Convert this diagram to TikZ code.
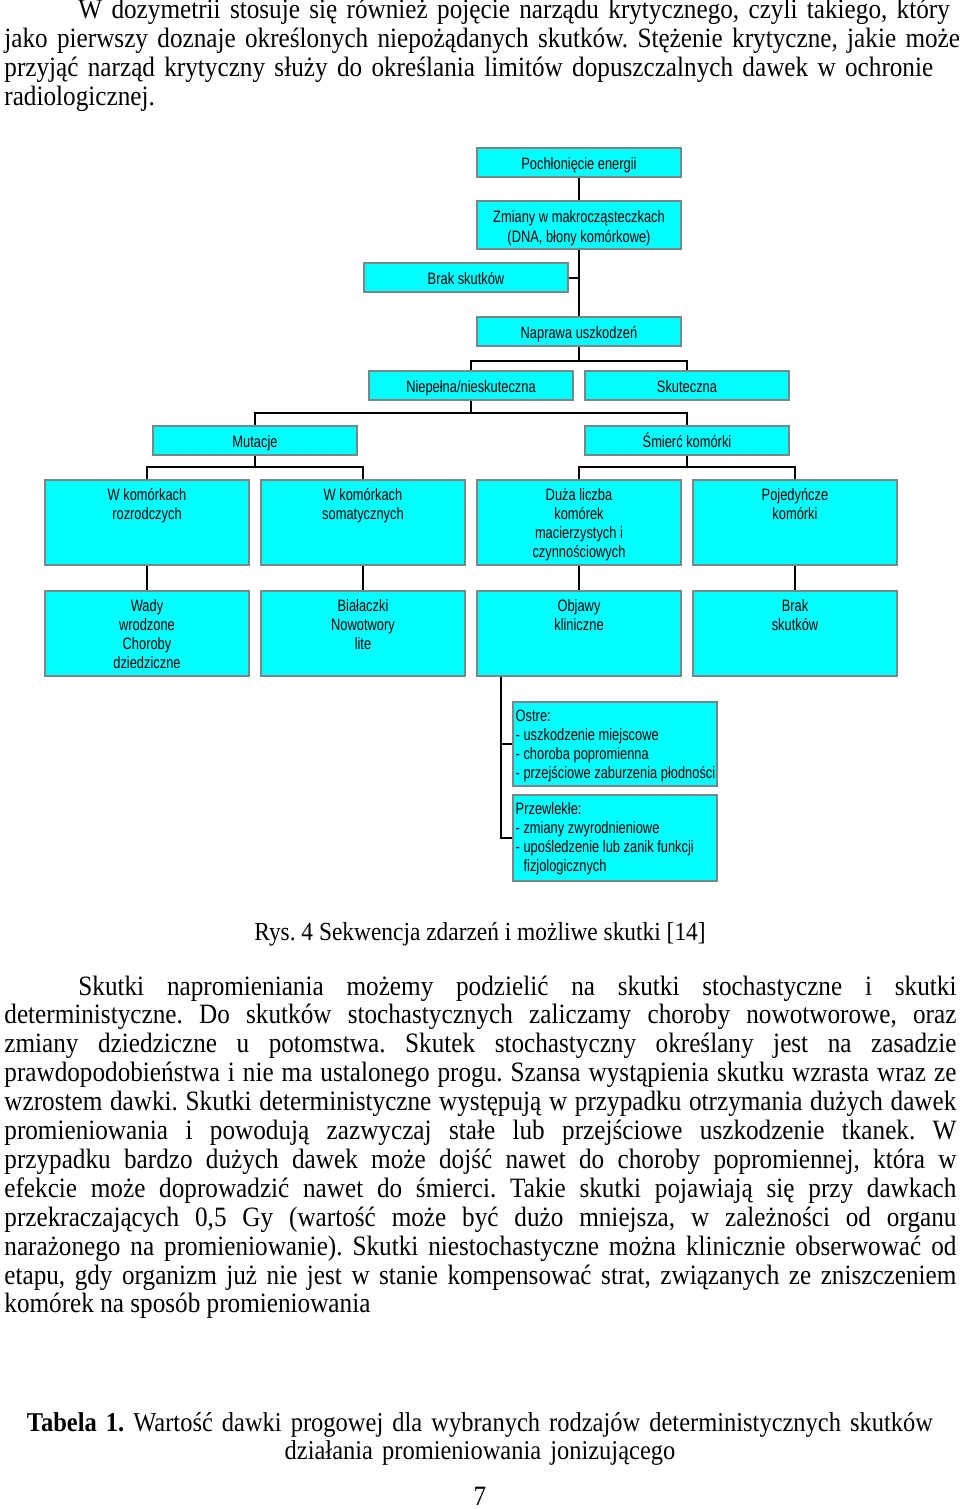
\documentclass[tikz,border=0pt]{standalone}
\usepackage{fontspec}
\usepackage{xcolor,tikz}
\setmainfont{Liberation Serif}
\newfontfamily\pagefont[FakeStretch=0.9]{Liberation Serif}
\newfontfamily\chartfont[FakeStretch=0.78]{Liberation Sans}
\definecolor{boxcyan}{RGB}{0,255,255}
\definecolor{boxedge}{RGB}{120,135,135}
\hyphenpenalty=10000
\tolerance=9999
\frenchspacing

\begin{document}
\begin{tikzpicture}[x=0.5pt,y=-0.5pt,
  every node/.style={inner sep=0pt},
  pagetext/.style={font=\pagefont\fontsize{14pt}{14.45pt}\selectfont},
  para/.style={pagetext, text width=476pt, anchor=base west},
  box/.style={draw=boxedge, fill=boxcyan, line width=0.7pt, minimum width=102pt, minimum height=14.5pt,
    text height=7pt, text depth=0pt, font=\chartfont\fontsize{8.25pt}{9.5pt}\selectfont},
  bigbox/.style={box, minimum height=42.5pt},
  boxtext/.style={font=\chartfont\fontsize{8.25pt}{9.5pt}\selectfont, align=center, anchor=north, inner ysep=4.5pt},
  listtext/.style={boxtext, align=left, anchor=north west, inner xsep=1.5pt, inner ysep=4pt},
  link/.style={line width=1pt}]
\useasboundingbox (0,0) rectangle (960,1509);

\node[para, text width=480pt, align=left] (intro) at (4,19) {\hspace*{37pt}W dozymetrii stosuje się również pojęcie narządu krytycznego, czyli takiego, który\\jako pierwszy doznaje określonych niepożądanych skutków. Stężenie krytyczne, jakie może\\przyjąć narząd krytyczny służy do określania limitów dopuszczalnych dawek w ochronie\\radiologicznej.};

\node[box] (poch) at (579,162.5) {Pochłonięcie energii};
\node[box, minimum height=24pt, align=center, text height=17pt] (zmiany) at (579,225) {Zmiany w makrocząsteczkach\\(DNA, błony komórkowe)};
\node[box] (brak) at (466,277.5) {Brak skutków};
\node[box] (naprawa) at (579,331.5) {Naprawa uszkodzeń};
\node[box] (niepelna) at (471,385.5) {Niepełna/nieskuteczna};
\node[box] (skuteczna) at (687,385.5) {Skuteczna};
\node[box] (mutacje) at (255,440.5) {Mutacje};
\node[box] (smierc) at (687,440.5) {Śmierć komórki};

\node[bigbox] (rozrod) at (147,522.5) {};
\node[boxtext] (rozrodT) at (rozrod.north) {W komórkach\\rozrodczych};
\node[bigbox] (somat) at (363,522.5) {};
\node[boxtext] (somatT) at (somat.north) {W komórkach\\somatycznych};
\node[bigbox] (duza) at (579,522.5) {};
\node[boxtext] (duzaT) at (duza.north) {Duża liczba\\komórek\\macierzystych i\\czynnościowych};
\node[bigbox] (pojed) at (795,522.5) {};
\node[boxtext] (pojedT) at (pojed.north) {Pojedyńcze\\komórki};

\node[bigbox] (wady) at (147,633.5) {};
\node[boxtext] (wadyT) at (wady.north) {Wady\\wrodzone\\Choroby\\dziedziczne};
\node[bigbox] (bialaczki) at (363,633.5) {};
\node[boxtext] (bialaczkiT) at (bialaczki.north) {Białaczki\\Nowotwory\\lite};
\node[bigbox] (objawy) at (579,633.5) {};
\node[boxtext] (objawyT) at (objawy.north) {Objawy\\kliniczne};
\node[bigbox] (brak2) at (795,633.5) {};
\node[boxtext] (brak2T) at (brak2.north) {Brak\\skutków};

\node[box, minimum height=42pt] (ostre) at (615,744) {};
\node[listtext] (ostreT) at (ostre.north west) {Ostre:\\- uszkodzenie miejscowe\\- choroba popromienna\\- przejściowe zaburzenia płodności};
\node[box, minimum height=43pt] (przew) at (615,838) {};
\node[listtext] (przewT) at (przew.north west) {Przewlekłe:\\- zmiany zwyrodnieniowe\\- upośledzenie lub zanik funkcji\\\phantom{- }fizjologicznych};

\draw[link] (poch) -- (zmiany);
\draw[link] (zmiany) -- (naprawa);
\draw[link] (brak.east) -- (brak.east -| naprawa);
\draw[link] (naprawa.south) -- ++(0,14) coordinate (j1);
\draw[link] (niepelna.north) |- (j1) -| (skuteczna.north);
\draw[link] (niepelna.south) -- ++(0,12) coordinate (j2);
\draw[link] (mutacje.north) |- (j2) -| (smierc.north);
\draw[link] (mutacje.south) -- ++(0,11) coordinate (j3);
\draw[link] (rozrod.north) |- (j3) -| (somat.north);
\draw[link] (smierc.south) -- ++(0,11) coordinate (j4);
\draw[link] (duza.north) |- (j4) -| (pojed.north);
\draw[link] (rozrod) -- (wady);
\draw[link] (somat) -- (bialaczki);
\draw[link] (duza) -- (objawy);
\draw[link] (pojed) -- (brak2);
\coordinate (trunk) at ([xshift=12.5pt]objawy.south west);
\draw[link] (trunk) |- (przew.west);
\draw[link] (ostre.west) -- (ostre.west -| trunk);

\node[pagetext, font=\pagefont\fontsize{13pt}{14pt}\selectfont, anchor=base] (rys) at (480,940) {Rys. 4 Sekwencja zdarzeń i możliwe skutki [14]};

\node[para, align=justify] (skutki) at (4,995) {\hspace*{37pt}Skutki napromieniania możemy podzielić na skutki stochastyczne i skutki\linebreak deterministyczne. Do skutków stochastycznych zaliczamy choroby nowotworowe, oraz\linebreak zmiany dziedziczne u potomstwa. Skutek stochastyczny określany jest na zasadzie\linebreak prawdopodobieństwa i nie ma ustalonego progu. Szansa wystąpienia skutku wzrasta wraz ze\linebreak wzrostem dawki. Skutki deterministyczne występują w przypadku otrzymania dużych dawek\linebreak promieniowania i powodują zazwyczaj stałe lub przejściowe uszkodzenie tkanek. W\linebreak przypadku bardzo dużych dawek może dojść nawet do choroby popromiennej, która w\linebreak efekcie może doprowadzić nawet do śmierci. Takie skutki pojawiają się przy dawkach\linebreak przekraczających 0,5 Gy (wartość może być dużo mniejsza, w zależności od organu\linebreak narażonego na promieniowanie). Skutki niestochastyczne można klinicznie obserwować od\linebreak etapu, gdy organizm już nie jest w stanie kompensować strat, związanych ze zniszczeniem\linebreak komórek na sposób promieniowania};

\node[pagetext, font=\pagefont\fontsize{13.6pt}{14.2pt}\selectfont, text width=476pt, align=center, anchor=base] (tabela) at (480,1431) {\textbf{Tabela 1.} Wartość dawki progowej dla wybranych rodzajów deterministycznych skutków\\działania promieniowania jonizującego};
\node[pagetext, anchor=base] (strona) at (480,1505) {7};
\end{tikzpicture}
\end{document}
